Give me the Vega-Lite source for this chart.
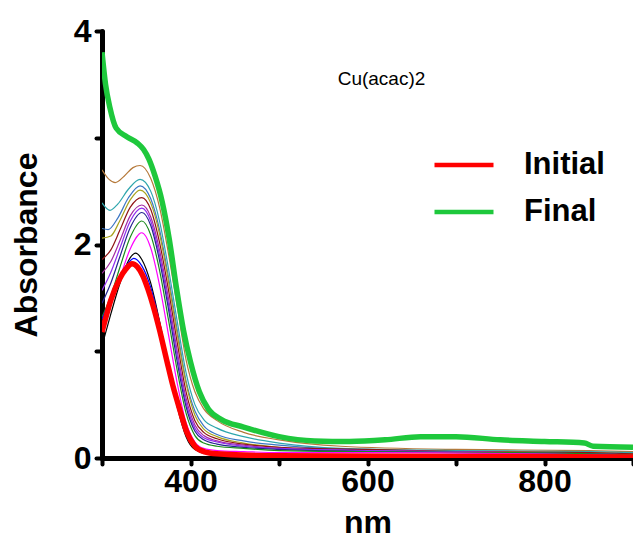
{
  "$schema": "https://vega.github.io/schema/vega-lite/v6.json",
  "width": 531,
  "height": 427,
  "autosize": {"type": "none"},
  "padding": {"left": 102, "top": 31, "right": 0, "bottom": 81},
  "background": "white",
  "title": {"text": "Cu(acac)2", "fontSize": 19, "fontWeight": "normal", "font": "Liberation Sans", "anchor": "middle", "dx": 14, "dy": 78, "color": "black"},
  "config": {
    "view": {"stroke": null},
    "font": "Liberation Sans",
    "axis": {"grid": false, "domainColor": "black", "domainWidth": 5, "domainCap": "round", "tickColor": "black", "tickWidth": 4, "tickSize": 6, "tickCap": "round", "labelColor": "black", "labelFont": "Liberation Sans", "labelFontSize": 32, "labelFontWeight": "bold", "labelFlush": false, "labelOverlap": false, "titleColor": "black", "titleFont": "Liberation Sans", "titleFontSize": 32, "titleFontWeight": "bold"},
    "legend": {"orient": "none", "legendX": 330, "legendY": 102, "padding": 0, "symbolType": "stroke", "symbolSize": 3481, "symbolStrokeWidth": 4.5, "labelFont": "Liberation Sans", "labelFontSize": 31, "labelFontWeight": "bold", "labelColor": "black", "labelOffset": 28, "rowPadding": -40}
  },
  "data": {"values": [
    {"s":"Final","nm":300,"A":3.80},{"s":"Final","nm":304,"A":3.50},{"s":"Final","nm":309,"A":3.28},{"s":"Final","nm":316,"A":3.09},{"s":"Final","nm":328,"A":3.01},{"s":"Final","nm":340,"A":2.95},{"s":"Final","nm":347,"A":2.89},{"s":"Final","nm":353,"A":2.80},{"s":"Final","nm":360,"A":2.64},{"s":"Final","nm":368,"A":2.40},{"s":"Final","nm":376,"A":2.05},{"s":"Final","nm":384,"A":1.60},{"s":"Final","nm":392,"A":1.20},{"s":"Final","nm":400,"A":0.90},{"s":"Final","nm":410,"A":0.62},{"s":"Final","nm":420,"A":0.46},{"s":"Final","nm":435,"A":0.36},{"s":"Final","nm":460,"A":0.29},{"s":"Final","nm":500,"A":0.20},{"s":"Final","nm":540,"A":0.16},{"s":"Final","nm":580,"A":0.155},{"s":"Final","nm":620,"A":0.17},{"s":"Final","nm":660,"A":0.20},{"s":"Final","nm":700,"A":0.20},{"s":"Final","nm":750,"A":0.17},{"s":"Final","nm":800,"A":0.155},{"s":"Final","nm":845,"A":0.14},{"s":"Final","nm":855,"A":0.11},{"s":"Final","nm":900,"A":0.10},
    {"s":"Initial","nm":300,"A":1.18},{"s":"Initial","nm":310,"A":1.48},{"s":"Initial","nm":320,"A":1.68},{"s":"Initial","nm":327,"A":1.77},{"s":"Initial","nm":334,"A":1.82},{"s":"Initial","nm":340,"A":1.79},{"s":"Initial","nm":346,"A":1.71},{"s":"Initial","nm":352,"A":1.58},{"s":"Initial","nm":358,"A":1.42},{"s":"Initial","nm":365,"A":1.20},{"s":"Initial","nm":373,"A":0.92},{"s":"Initial","nm":380,"A":0.68},{"s":"Initial","nm":388,"A":0.45},{"s":"Initial","nm":396,"A":0.24},{"s":"Initial","nm":405,"A":0.11},{"s":"Initial","nm":415,"A":0.06},{"s":"Initial","nm":430,"A":0.04},{"s":"Initial","nm":500,"A":0.02},{"s":"Initial","nm":700,"A":0.015},{"s":"Initial","nm":900,"A":0.01},
    {"s":"c1","nm":300,"A":2.70},{"s":"c1","nm":308,"A":2.61},{"s":"c1","nm":315,"A":2.58},{"s":"c1","nm":325,"A":2.64},{"s":"c1","nm":335,"A":2.72},{"s":"c1","nm":343,"A":2.74},{"s":"c1","nm":355,"A":2.62},{"s":"c1","nm":365,"A":2.35},{"s":"c1","nm":375,"A":1.92},{"s":"c1","nm":385,"A":1.42},{"s":"c1","nm":395,"A":0.92},{"s":"c1","nm":405,"A":0.62},{"s":"c1","nm":415,"A":0.46},{"s":"c1","nm":430,"A":0.35},{"s":"c1","nm":460,"A":0.24},{"s":"c1","nm":500,"A":0.17},{"s":"c1","nm":570,"A":0.11},{"s":"c1","nm":700,"A":0.08},{"s":"c1","nm":850,"A":0.07},{"s":"c1","nm":900,"A":0.06},
    {"s":"c2","nm":300,"A":2.39},{"s":"c2","nm":309,"A":2.32},{"s":"c2","nm":318,"A":2.38},{"s":"c2","nm":330,"A":2.52},{"s":"c2","nm":343,"A":2.61},{"s":"c2","nm":355,"A":2.50},{"s":"c2","nm":365,"A":2.22},{"s":"c2","nm":375,"A":1.78},{"s":"c2","nm":385,"A":1.28},{"s":"c2","nm":395,"A":0.80},{"s":"c2","nm":405,"A":0.50},{"s":"c2","nm":415,"A":0.36},{"s":"c2","nm":430,"A":0.28},{"s":"c2","nm":460,"A":0.20},{"s":"c2","nm":500,"A":0.14},{"s":"c2","nm":570,"A":0.09},{"s":"c2","nm":700,"A":0.07},{"s":"c2","nm":850,"A":0.06},{"s":"c2","nm":900,"A":0.05},
    {"s":"c3","nm":300,"A":2.15},{"s":"c3","nm":307,"A":2.14},{"s":"c3","nm":318,"A":2.25},{"s":"c3","nm":330,"A":2.44},{"s":"c3","nm":343,"A":2.55},{"s":"c3","nm":355,"A":2.43},{"s":"c3","nm":365,"A":2.14},{"s":"c3","nm":375,"A":1.70},{"s":"c3","nm":385,"A":1.20},{"s":"c3","nm":395,"A":0.72},{"s":"c3","nm":405,"A":0.44},{"s":"c3","nm":415,"A":0.30},{"s":"c3","nm":430,"A":0.22},{"s":"c3","nm":460,"A":0.16},{"s":"c3","nm":500,"A":0.12},{"s":"c3","nm":570,"A":0.08},{"s":"c3","nm":700,"A":0.06},{"s":"c3","nm":850,"A":0.05},{"s":"c3","nm":900,"A":0.04},
    {"s":"c4","nm":300,"A":2.06},{"s":"c4","nm":310,"A":2.08},{"s":"c4","nm":320,"A":2.22},{"s":"c4","nm":332,"A":2.42},{"s":"c4","nm":343,"A":2.51},{"s":"c4","nm":355,"A":2.39},{"s":"c4","nm":365,"A":2.10},{"s":"c4","nm":375,"A":1.66},{"s":"c4","nm":385,"A":1.16},{"s":"c4","nm":395,"A":0.70},{"s":"c4","nm":405,"A":0.40},{"s":"c4","nm":415,"A":0.27},{"s":"c4","nm":430,"A":0.20},{"s":"c4","nm":460,"A":0.14},{"s":"c4","nm":500,"A":0.10},{"s":"c4","nm":570,"A":0.07},{"s":"c4","nm":700,"A":0.06},{"s":"c4","nm":850,"A":0.05},{"s":"c4","nm":900,"A":0.04},
    {"s":"c5","nm":300,"A":1.86},{"s":"c5","nm":310,"A":1.95},{"s":"c5","nm":320,"A":2.13},{"s":"c5","nm":332,"A":2.35},{"s":"c5","nm":345,"A":2.44},{"s":"c5","nm":355,"A":2.33},{"s":"c5","nm":365,"A":2.02},{"s":"c5","nm":375,"A":1.58},{"s":"c5","nm":385,"A":1.08},{"s":"c5","nm":395,"A":0.62},{"s":"c5","nm":405,"A":0.35},{"s":"c5","nm":415,"A":0.24},{"s":"c5","nm":430,"A":0.18},{"s":"c5","nm":460,"A":0.13},{"s":"c5","nm":500,"A":0.10},{"s":"c5","nm":600,"A":0.08},{"s":"c5","nm":700,"A":0.06},{"s":"c5","nm":850,"A":0.05},{"s":"c5","nm":900,"A":0.04},
    {"s":"c6","nm":300,"A":1.73},{"s":"c6","nm":310,"A":1.84},{"s":"c6","nm":320,"A":2.03},{"s":"c6","nm":332,"A":2.27},{"s":"c6","nm":345,"A":2.37},{"s":"c6","nm":355,"A":2.26},{"s":"c6","nm":365,"A":1.95},{"s":"c6","nm":375,"A":1.50},{"s":"c6","nm":385,"A":1.00},{"s":"c6","nm":395,"A":0.56},{"s":"c6","nm":405,"A":0.31},{"s":"c6","nm":415,"A":0.21},{"s":"c6","nm":430,"A":0.16},{"s":"c6","nm":460,"A":0.12},{"s":"c6","nm":500,"A":0.09},{"s":"c6","nm":600,"A":0.07},{"s":"c6","nm":850,"A":0.04},{"s":"c6","nm":900,"A":0.03},
    {"s":"c7","nm":300,"A":1.57},{"s":"c7","nm":310,"A":1.74},{"s":"c7","nm":320,"A":1.96},{"s":"c7","nm":332,"A":2.22},{"s":"c7","nm":345,"A":2.34},{"s":"c7","nm":355,"A":2.22},{"s":"c7","nm":365,"A":1.90},{"s":"c7","nm":375,"A":1.45},{"s":"c7","nm":385,"A":0.96},{"s":"c7","nm":395,"A":0.52},{"s":"c7","nm":405,"A":0.28},{"s":"c7","nm":415,"A":0.19},{"s":"c7","nm":430,"A":0.15},{"s":"c7","nm":460,"A":0.11},{"s":"c7","nm":500,"A":0.09},{"s":"c7","nm":600,"A":0.07},{"s":"c7","nm":850,"A":0.04},{"s":"c7","nm":900,"A":0.03},
    {"s":"c8","nm":300,"A":1.45},{"s":"c8","nm":310,"A":1.64},{"s":"c8","nm":320,"A":1.88},{"s":"c8","nm":332,"A":2.16},{"s":"c8","nm":345,"A":2.30},{"s":"c8","nm":355,"A":2.18},{"s":"c8","nm":365,"A":1.85},{"s":"c8","nm":375,"A":1.40},{"s":"c8","nm":385,"A":0.90},{"s":"c8","nm":395,"A":0.48},{"s":"c8","nm":405,"A":0.25},{"s":"c8","nm":415,"A":0.17},{"s":"c8","nm":430,"A":0.13},{"s":"c8","nm":460,"A":0.10},{"s":"c8","nm":500,"A":0.08},{"s":"c8","nm":600,"A":0.06},{"s":"c8","nm":850,"A":0.04},{"s":"c8","nm":900,"A":0.03},
    {"s":"c9","nm":300,"A":1.32},{"s":"c9","nm":310,"A":1.52},{"s":"c9","nm":320,"A":1.78},{"s":"c9","nm":332,"A":2.07},{"s":"c9","nm":345,"A":2.22},{"s":"c9","nm":355,"A":2.09},{"s":"c9","nm":365,"A":1.76},{"s":"c9","nm":375,"A":1.30},{"s":"c9","nm":385,"A":0.82},{"s":"c9","nm":395,"A":0.42},{"s":"c9","nm":405,"A":0.21},{"s":"c9","nm":415,"A":0.14},{"s":"c9","nm":430,"A":0.11},{"s":"c9","nm":460,"A":0.09},{"s":"c9","nm":500,"A":0.07},{"s":"c9","nm":600,"A":0.06},{"s":"c9","nm":850,"A":0.04},{"s":"c9","nm":900,"A":0.03},
    {"s":"c10","nm":300,"A":1.23},{"s":"c10","nm":310,"A":1.44},{"s":"c10","nm":320,"A":1.68},{"s":"c10","nm":332,"A":1.96},{"s":"c10","nm":345,"A":2.11},{"s":"c10","nm":355,"A":1.97},{"s":"c10","nm":365,"A":1.62},{"s":"c10","nm":375,"A":1.16},{"s":"c10","nm":385,"A":0.70},{"s":"c10","nm":395,"A":0.33},{"s":"c10","nm":405,"A":0.15},{"s":"c10","nm":415,"A":0.09},{"s":"c10","nm":430,"A":0.07},{"s":"c10","nm":460,"A":0.06},{"s":"c10","nm":500,"A":0.05},{"s":"c10","nm":600,"A":0.05},{"s":"c10","nm":850,"A":0.03},{"s":"c10","nm":900,"A":0.02},
    {"s":"c11","nm":300,"A":1.05},{"s":"c11","nm":310,"A":1.35},{"s":"c11","nm":320,"A":1.63},{"s":"c11","nm":330,"A":1.85},{"s":"c11","nm":338,"A":1.92},{"s":"c11","nm":345,"A":1.86},{"s":"c11","nm":355,"A":1.64},{"s":"c11","nm":365,"A":1.28},{"s":"c11","nm":375,"A":0.86},{"s":"c11","nm":385,"A":0.48},{"s":"c11","nm":395,"A":0.20},{"s":"c11","nm":405,"A":0.08},{"s":"c11","nm":420,"A":0.04},{"s":"c11","nm":500,"A":0.03},{"s":"c11","nm":900,"A":0.02},
    {"s":"c12","nm":300,"A":1.30},{"s":"c12","nm":310,"A":1.50},{"s":"c12","nm":320,"A":1.70},{"s":"c12","nm":330,"A":1.83},{"s":"c12","nm":336,"A":1.87},{"s":"c12","nm":345,"A":1.80},{"s":"c12","nm":355,"A":1.60},{"s":"c12","nm":365,"A":1.27},{"s":"c12","nm":375,"A":0.87},{"s":"c12","nm":385,"A":0.51},{"s":"c12","nm":395,"A":0.25},{"s":"c12","nm":405,"A":0.11},{"s":"c12","nm":420,"A":0.05},{"s":"c12","nm":500,"A":0.03},{"s":"c12","nm":900,"A":0.02}
  ]},
  "encoding": {
    "x": {"field": "nm", "type": "quantitative", "title": "nm",
      "scale": {"domain": [300, 900], "nice": false, "zero": false},
      "axis": {"values": [300, 400, 500, 600, 700, 800, 900], "labelExpr": "datum.value == 400 || datum.value == 600 || datum.value == 800 ? datum.label : ''", "labelPadding": 2, "titlePadding": 10}},
    "y": {"field": "A", "type": "quantitative", "title": "Absorbance",
      "scale": {"domain": [0, 4], "nice": false},
      "axis": {"values": [0, 1, 2, 3, 4], "labelExpr": "datum.value % 2 == 0 ? datum.label : ''", "labelPadding": 5, "titlePadding": 30}},
    "color": {"field": "s", "type": "nominal",
      "scale": {"domain": ["c1","c2","c3","c4","c5","c6","c7","c8","c9","c10","c11","c12","Initial","Final"],
                "range": ["#b5793a","#2ea6ad","#3b76c4","#a8a31e","#8e1414","#a42ba4","#8f2cf0","#23238f","#1a8c1a","#ff00ff","#000000","#0000ff","#ff0000","#1ec83c"]},
      "legend": {"title": null, "values": ["Initial", "Final"]}}
  },
  "layer": [
    {"transform": [{"filter": "datum.s != 'Initial' && datum.s != 'Final'"}],
     "mark": {"type": "line", "strokeWidth": 1.2, "interpolate": "monotone", "clip": true}},
    {"transform": [{"filter": "datum.s == 'Initial' || datum.s == 'Final'"}],
     "mark": {"type": "line", "strokeWidth": 5.5, "interpolate": "monotone", "clip": true}}
  ]
}
